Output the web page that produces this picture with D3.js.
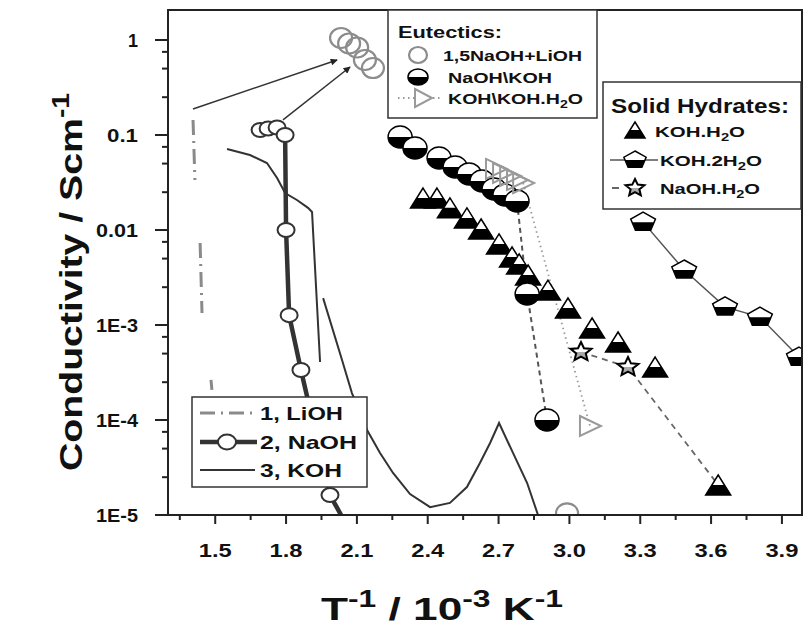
<!DOCTYPE html>
<html><head><meta charset="utf-8">
<script src="https://cdn.jsdelivr.net/npm/d3@7"></script>
<style>body{margin:0;background:#fff}svg{display:block}</style>
</head><body>
<svg id="c" width="804" height="630"></svg>
<script>
// ---------------- data ----------------
const xTicks = [1.5, 1.8, 2.1, 2.4, 2.7, 3.0, 3.3, 3.6, 3.9];
const xTickLabels = ["1.5", "1.8", "2.1", "2.4", "2.7", "3.0", "3.3", "3.6", "3.9"];
const yTicks = [1, 0.1, 0.01, 1e-3, 1e-4, 1e-5];
const yTickLabels = ["1", "0.1", "0.01", "1E-3", "1E-4", "1E-5"];

// 1, LiOH (dash-dot, broken)
const liohX = [1.406, 1.414, null, 1.436, 1.444, null, 1.482, 1.486];
const liohY = [0.144, 0.0336, null, 0.0073, 0.00134, null, 2.64e-4, 2.07e-4];
// 2, NaOH (thick line + open circles)
const naohX = [1.690, 1.724, 1.762, 1.796, 1.800, 1.813, 1.863, 1.986, 2.033];
const naohY = [0.113, 0.117, 0.120, 0.100, 0.0100, 1.27e-3, 3.36e-4, 1.62e-5, 1.0e-5];
// 3, KOH (thin line, two pieces)
const kohX = [1.550, 1.647, 1.719, 1.762, 1.796, 1.846, 1.893, 1.910, 1.944, null,
  1.957, 2.037, 2.079, 2.143, 2.198, 2.253, 2.325, 2.410, 2.494, 2.566, 2.621, 2.664, 2.702, 2.761, 2.821, 2.867];
const kohY = [0.0712, 0.0616, 0.0507, 0.0353, 0.0245, 0.0207, 0.0171, 0.01547, 4.08e-4, null,
  1.92e-3, 4.28e-4, 1.92e-4, 7.85e-5, 4.5e-5, 2.77e-5, 1.66e-5, 1.21e-5, 1.34e-5, 1.97e-5, 3.53e-5, 5.73e-5, 9.3e-5, 4.5e-5, 2.17e-5, 1.0e-5];
// Eutectics
const eut1X = [2.033, 2.067, 2.101, 2.134, 2.168, 2.990];           // 1,5NaOH+LiOH
const eut1Y = [1.05, 0.919, 0.834, 0.616, 0.507, 1.04e-5];
const eut2X = [2.283, 2.346, 2.448, 2.516, 2.575, 2.630, 2.681, 2.727, 2.778, 2.821, 2.905]; // NaOH\KOH
const eut2Y = [0.0953, 0.073, 0.0573, 0.046, 0.0389, 0.0328, 0.027, 0.0234, 0.0202, 2.12e-3, 1.0e-4];
const eut3X = [2.689, 2.719, 2.749, 2.778, 2.804, 3.087];           // KOH\KOH.H2O
const eut3Y = [0.0439, 0.0398, 0.037, 0.0336, 0.0312, 8.65e-5];
// Solid hydrates
const hyd1X = [2.380, 2.439, 2.494, 2.566, 2.626, 2.702, 2.757, 2.787, 2.825, 2.909, 2.994, 3.096, 3.206, 3.363, 3.630]; // KOH.H2O
const hyd1Y = [0.0217, 0.0217, 0.0171, 0.0134, 0.01025, 7.13e-3, 5.2e-3, 4.39e-3, 3.36e-3, 2.33e-3, 1.51e-3, 9.3e-4, 6.62e-4, 3.61e-4, 2.07e-5];
const hyd2X = [3.312, 3.486, 3.659, 3.807, 3.972];                  // KOH.2H2O
const hyd2Y = [0.0121, 3.79e-3, 1.55e-3, 1.21e-3, 4.6e-4];
const hyd3X = [3.049, 3.248, 3.630];                                // NaOH.H2O (line ends on last KOH.H2O point)
const hyd3Y = [5.2e-4, 3.61e-4, 2.07e-5];
const hyd3Stars = 2;
// annotation arrows
const arrowFromX = [1.406, 1.787], arrowFromY = [0.188, 0.144];
const arrowToX = [2.016, 2.071], arrowToY = [0.616, 0.52];

// ---------------- setup ----------------
const FONT = "'Liberation Sans', Arial, Helvetica, sans-serif";
const svg = d3.select('#c');
const x = d3.scaleLinear().domain([1.3, 3.985]).range([168, 802]);
const y = d3.scaleLog().domain([1e-5, 2.069]).range([515, 10]);
const X0 = x.range()[0], X1 = x.range()[1], Y0 = y.range()[0], Y1 = y.range()[1];

const defs = svg.append('defs');
defs.append('clipPath').attr('id', 'plotClip').append('rect')
  .attr('x', X0).attr('y', Y1).attr('width', X1 - X0).attr('height', Y0 - Y1);
defs.append('clipPath').attr('id', 'lowerHalf').attr('clipPathUnits', 'userSpaceOnUse')
  .append('rect').attr('x', -30).attr('y', 0).attr('width', 60).attr('height', 30);
defs.append('marker').attr('id', 'ah').attr('viewBox', '0 0 10 10').attr('refX', 9).attr('refY', 5)
  .attr('markerWidth', 9).attr('markerHeight', 7).attr('orient', 'auto').attr('markerUnits', 'userSpaceOnUse')
  .append('path').attr('d', 'M0,0 L10,5 L0,10 Z').attr('fill', '#222');

const zip = (xs, ys) => xs.map((v, i) => ({ x: v, y: ys[i] }));
const line = d3.line().defined(d => d.x != null && d.y != null).x(d => x(d.x)).y(d => y(d.y));

// ---------------- shapes ----------------
const ell = (rx, ry) => `M${-rx},0A${rx},${ry} 0 1,0 ${rx},0A${rx},${ry} 0 1,0 ${-rx},0Z`;
const triUp = (w, h) => `M0,${-h}L${w},${h}L${-w},${h}Z`;
const triRight = (w, h) => `M${-w},${-h}L${w + 1},0L${-w},${h}Z`;
function pent(r, sx) {
  const pts = d3.range(5).map(k => { const a = -Math.PI / 2 + k * 2 * Math.PI / 5; return [Math.cos(a) * r * sx, Math.sin(a) * r]; });
  return 'M' + pts.map(p => p.join(',')).join('L') + 'Z';
}
function star(ro, ri, sx) {
  const pts = d3.range(10).map(k => { const a = -Math.PI / 2 + k * Math.PI / 5; const r = k % 2 ? ri : ro; return [Math.cos(a) * r * sx, Math.sin(a) * r]; });
  return 'M' + pts.map(p => p.join(',')).join('L') + 'Z';
}
function marker(g, cx, cy, d, o) {
  const m = g.append('g').attr('transform', `translate(${cx},${cy})`);
  m.append('path').attr('d', d).attr('fill', o.fill || '#fff');
  if (o.half) m.append('path').attr('d', d).attr('fill', o.half).attr('clip-path', 'url(#lowerHalf)');
  m.append('path').attr('d', d).attr('fill', 'none').attr('stroke', o.stroke || '#000').attr('stroke-width', o.sw || 1.5);
  return m;
}
const MK = {
  eut1: { d: ell(11, 10), o: { fill: 'none', stroke: '#8c8c8c', sw: 2.2 } },
  eut2: { d: ell(12, 11), o: { half: '#000', stroke: '#000', sw: 1.5 } },
  eut3: { d: triRight(10, 10), o: { fill: 'none', stroke: '#9a9a9a', sw: 2 } },
  hyd1: { d: triUp(12.5, 10), o: { half: '#000', stroke: '#000', sw: 1.5 } },
  hyd2: { d: pent(10, 1.3), o: { half: '#000', stroke: '#000', sw: 1.5 } },
  hyd3: { d: star(10, 4.6, 1.1), o: { half: '#aaa', stroke: '#000', sw: 2 } },
  naoh: { d: ell(8.5, 7), o: { fill: '#fff', stroke: '#333', sw: 2 } }
};

// ---------------- text helper ----------------
function addText(parent, tx, ty, parts, size, o = {}) {
  const t = parent.append('text').attr('x', tx).attr('y', ty).attr('font-size', size)
    .attr('font-weight', 'bold').attr('font-family', FONT).attr('fill', o.fill || '#111');
  if (o.anchor) t.attr('text-anchor', o.anchor);
  if (o.rotate) t.attr('transform', `rotate(${o.rotate},${tx},${ty})`);
  let shift = 0;
  parts.forEach(p => {
    const s = typeof p === 'string' ? { t: p, v: 0 } : p;
    const target = s.v === 1 ? -size * 0.42 : s.v === -1 ? size * 0.28 : 0;
    const ts = t.append('tspan').text(s.t).attr('dy', target - shift);
    if (s.v) ts.attr('font-size', size * 0.72);
    shift = target;
  });
  if (o.width) t.attr('textLength', o.width).attr('lengthAdjust', 'spacingAndGlyphs');
  return t;
}
const sup = t => ({ t, v: 1 }), sub = t => ({ t, v: -1 });

// ---------------- plot content ----------------
const plot = svg.append('g').attr('clip-path', 'url(#plotClip)');

// KOH thin line
plot.append('path').attr('d', line(zip(kohX, kohY))).attr('fill', 'none').attr('stroke', '#333').attr('stroke-width', 2);
// LiOH dash-dot
plot.append('path').attr('d', line(zip(liohX, liohY))).attr('fill', 'none').attr('stroke', '#8a8a8a')
  .attr('stroke-width', 3).attr('stroke-dasharray', '15,6,2,6');
// NaOH thick
plot.append('path').attr('d', line(zip(naohX, naohY))).attr('fill', 'none').attr('stroke', '#333').attr('stroke-width', 4.5);
// arrows
arrowFromX.forEach((v, i) => {
  plot.append('line').attr('x1', x(v)).attr('y1', y(arrowFromY[i])).attr('x2', x(arrowToX[i])).attr('y2', y(arrowToY[i]))
    .attr('stroke', '#333').attr('stroke-width', 1.5).attr('marker-end', 'url(#ah)');
});
// connector lines for eutectics / hydrates
const e2 = zip(eut2X, eut2Y);
plot.append('path').attr('d', line(e2.slice(-3))).attr('fill', 'none').attr('stroke', '#555').attr('stroke-width', 2).attr('stroke-dasharray', '5,4');
const e3 = zip(eut3X, eut3Y);
plot.append('path').attr('d', line(e3.slice(-2))).attr('fill', 'none').attr('stroke', '#999').attr('stroke-width', 1.8).attr('stroke-dasharray', '1.5,3.5');
plot.append('path').attr('d', line(zip(hyd2X, hyd2Y))).attr('fill', 'none').attr('stroke', '#555').attr('stroke-width', 1.5);
plot.append('path').attr('d', line(zip(hyd3X, hyd3Y))).attr('fill', 'none').attr('stroke', '#666').attr('stroke-width', 1.8).attr('stroke-dasharray', '6,5');

// markers
zip(naohX, naohY).slice(0, -1).forEach(p => marker(plot, x(p.x), y(p.y), MK.naoh.d, MK.naoh.o));
zip(hyd1X, hyd1Y).forEach(p => marker(plot, x(p.x), y(p.y), MK.hyd1.d, MK.hyd1.o));
e2.forEach(p => marker(plot, x(p.x), y(p.y), MK.eut2.d, MK.eut2.o));
e3.forEach(p => marker(plot, x(p.x), y(p.y), MK.eut3.d, MK.eut3.o));
zip(eut1X, eut1Y).forEach(p => marker(plot, x(p.x), y(p.y), MK.eut1.d, MK.eut1.o));
zip(hyd2X, hyd2Y).forEach(p => marker(plot, x(p.x), y(p.y), MK.hyd2.d, MK.hyd2.o));
zip(hyd3X, hyd3Y).slice(0, hyd3Stars).forEach(p => marker(plot, x(p.x), y(p.y), MK.hyd3.d, MK.hyd3.o));

// ---------------- axes ----------------
const ax = svg.append('g').attr('stroke', '#222');
ax.append('rect').attr('x', X0).attr('y', Y1).attr('width', X1 - X0).attr('height', Y0 - Y1)
  .attr('fill', 'none').attr('stroke-width', 2);
// y ticks
yTicks.forEach((v, i) => {
  ax.append('line').attr('x1', X0 - 13).attr('x2', X0).attr('y1', y(v)).attr('y2', y(v)).attr('stroke-width', 2);
  addText(svg, X0 - 30, y(v) + 7, [yTickLabels[i]], 19, { anchor: 'end', width: yTickLabels[i].length > 1 ? (yTickLabels[i].length === 3 ? 31 : 42) : 10 });
});
const yMinor = [];
yTicks.forEach(d => [2.5, 5, 7.5].forEach(m => { const v = d * m; if (v < y.domain()[1]) yMinor.push(v); }));
yMinor.forEach(v => ax.append('line').attr('x1', X0 - 6).attr('x2', X0).attr('y1', y(v)).attr('y2', y(v)).attr('stroke-width', 2));
// x ticks
xTicks.forEach((v, i) => {
  ax.append('line').attr('x1', x(v)).attr('x2', x(v)).attr('y1', Y0).attr('y2', Y0 + 9).attr('stroke-width', 2);
  addText(svg, x(v), 557, [xTickLabels[i]], 19, { anchor: 'middle', width: 33 });
});
d3.range(1.35, 3.98, 0.3).forEach(v => ax.append('line').attr('x1', x(v)).attr('x2', x(v)).attr('y1', Y0).attr('y2', Y0 + 5).attr('stroke-width', 2));

// axis titles
addText(svg, 82, 282, ['Conductivity / Scm', sup('-1')], 32, { anchor: 'middle', rotate: -90, width: 378 });
addText(svg, 442, 620, ['T', sup('-1'), ' /  10', sup('-3'), ' K', sup('-1')], 32, { anchor: 'middle', width: 242 });

// ---------------- legends ----------------
function box(x0, y0, x1, y1) {
  svg.append('rect').attr('x', x0).attr('y', y0).attr('width', x1 - x0).attr('height', y1 - y0)
    .attr('fill', '#fff').attr('stroke', '#333').attr('stroke-width', 1.5);
}
// Eutectics
box(388, 10, 597, 118);
addText(svg, 398, 38, ['Eutectics:'], 17, { width: 104 });
marker(svg, 418, 55, ell(9, 8), MK.eut1.o);
addText(svg, 443, 61, ['1,5NaOH+LiOH'], 15, { width: 139 });
marker(svg, 418, 77, ell(10, 8), MK.eut2.o);
addText(svg, 448, 83, ['NaOH\\KOH'], 15, { width: 104 });
svg.append('line').attr('x1', 398).attr('x2', 442).attr('y1', 98).attr('y2', 98).attr('stroke', '#999').attr('stroke-width', 1.8).attr('stroke-dasharray', '1.5,3.5');
marker(svg, 423, 98, triRight(8, 9), { fill: '#fff', stroke: '#9a9a9a', sw: 2 });
addText(svg, 448, 104, ['KOH\\KOH.H', sub('2'), 'O'], 15, { width: 135 });

// Solid hydrates
box(603, 82, 801, 209);
addText(svg, 611, 113, ['Solid Hydrates:'], 20, { width: 178 });
marker(svg, 635, 130, triUp(10, 8), MK.hyd1.o);
addText(svg, 655, 137, ['KOH.H', sub('2'), 'O'], 15, { width: 90 });
svg.append('line').attr('x1', 610).attr('x2', 658).attr('y1', 160).attr('y2', 160).attr('stroke', '#555').attr('stroke-width', 1.5);
marker(svg, 635, 160, pent(9, 1.3), MK.hyd2.o);
addText(svg, 660, 166, ['KOH.2H', sub('2'), 'O'], 15, { width: 102 });
svg.append('line').attr('x1', 612).attr('x2', 658).attr('y1', 188).attr('y2', 188).attr('stroke', '#666').attr('stroke-width', 1.8).attr('stroke-dasharray', '7,16');
marker(svg, 635, 188, star(9, 4.2, 1.1), MK.hyd3.o);
addText(svg, 660, 194, ['NaOH.H', sub('2'), 'O'], 15, { width: 100 });

// Bottom-left legend
box(192, 397, 367, 487);
svg.append('line').attr('x1', 200).attr('x2', 257).attr('y1', 413).attr('y2', 413).attr('stroke', '#8a8a8a').attr('stroke-width', 3).attr('stroke-dasharray', '15,6,2,6');
addText(svg, 260, 420, ['1, LiOH'], 19, { width: 83 });
svg.append('line').attr('x1', 200).attr('x2', 257).attr('y1', 442).attr('y2', 442).attr('stroke', '#333').attr('stroke-width', 4.5);
marker(svg, 227, 442, ell(9, 7.5), MK.naoh.o);
addText(svg, 260, 449, ['2, NaOH'], 19, { width: 97 });
svg.append('line').attr('x1', 200).attr('x2', 255).attr('y1', 470).attr('y2', 470).attr('stroke', '#333').attr('stroke-width', 2);
addText(svg, 260, 477, ['3, KOH'], 19, { width: 82 });
</script>
</body></html>
